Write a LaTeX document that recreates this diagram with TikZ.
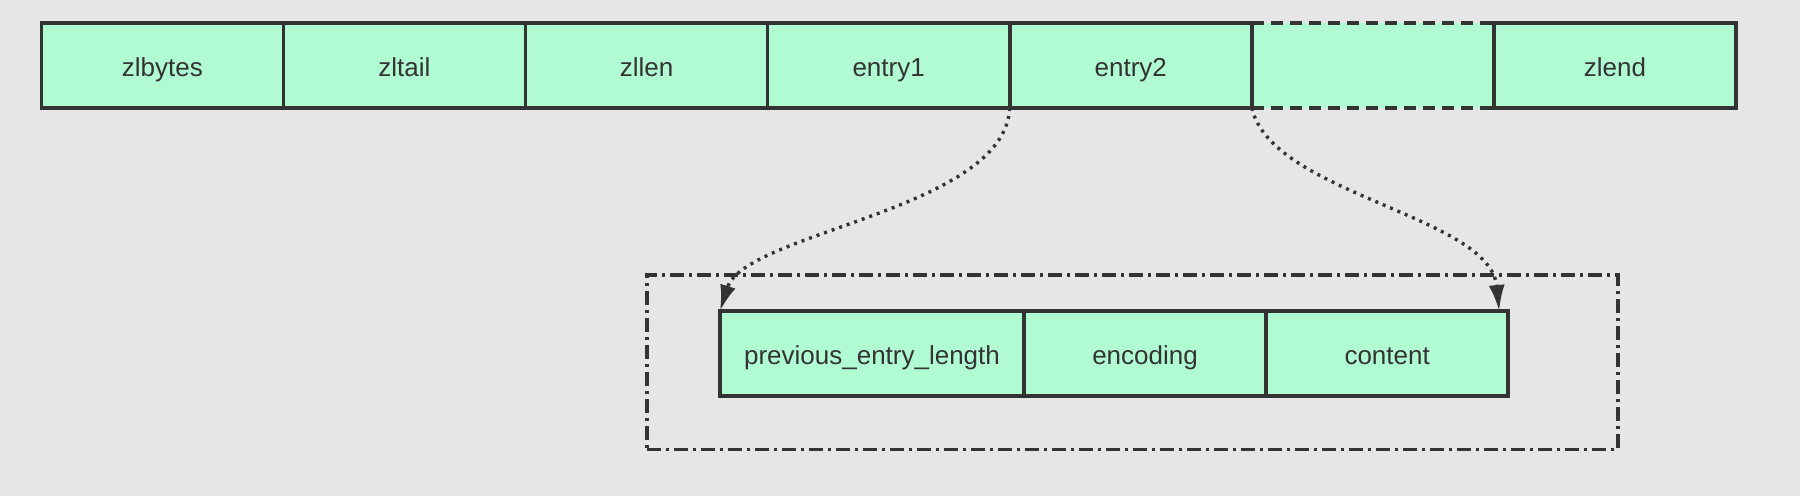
\documentclass[tikz,border=0pt]{standalone}
\usepackage{fontspec}
\setmainfont{Liberation Sans}
\usetikzlibrary{arrows.meta}
\definecolor{bg}{HTML}{E6E6E6}
\definecolor{cellfill}{HTML}{B1FBD3}
\definecolor{ink}{HTML}{333333}
\begin{document}
\begin{tikzpicture}[x=1pt,y=-1pt,
  cell/.style={draw=ink,fill=cellfill,line width=3.6pt,minimum width=242.1pt,minimum height=85pt,inner sep=0pt,outer sep=0pt,text=ink,font=\fontsize{26}{30}\selectfont,text height=22pt,text depth=1pt,anchor=north west},
  gapcell/.style={fill=cellfill,minimum width=242.1pt,minimum height=85pt,inner sep=0pt,outer sep=0pt,anchor=north west},
  gapline/.style={draw=ink,line width=3.6pt,dash pattern=on 12pt off 7pt},
  groupbox/.style={draw=ink,line width=3.4pt,dash pattern=on 14pt off 5pt on 3pt off 5pt,minimum width=971pt,minimum height=174.5pt,inner sep=0pt,anchor=north west},
  link/.style={draw=ink,line width=3.4pt,dash pattern=on 3pt off 5pt,-{Latex[length=26pt,width=16pt]}}
]
\fill[bg] (0,0) rectangle (1800,496);
\useasboundingbox (0,0) rectangle (1800,496);
% group container
\node[groupbox] (grp) at (645.2,273.2) {};
% top row
\node[gapcell] (gap) at (1251.8,23) {};
\node[cell] (zlbytes) at (41.3,23) {zlbytes};
\node[cell] (zltail) at (283.4,23) {zltail};
\node[cell] (zllen) at (525.5,23) {zllen};
\node[cell] (entry1) at (767.6,23) {entry1};
\node[cell] (entry2) at (1009.7,23) {entry2};
\node[cell] (zlend) at (1493.9,23) {zlend};
\draw[gapline] (gap.north west) -- (gap.north east);
\draw[gapline] (gap.south west) -- (gap.south east);
% bottom row
\node[cell,minimum width=304pt] (prev) at (720,311) {previous\_entry\_length};
\node[cell] (enc) at (prev.north east) {encoding};
\node[cell] (cont) at (enc.north east) {content};
\coordinate (contend) at ([xshift=-9pt]cont.north east);
% connectors
\draw[link] (entry2.south west) .. controls (1005,210) and (745,232) .. (prev.north west);
\draw[link] (gap.south west) .. controls (1272,195) and (1490,215) .. (contend);
\end{tikzpicture}
\end{document}
